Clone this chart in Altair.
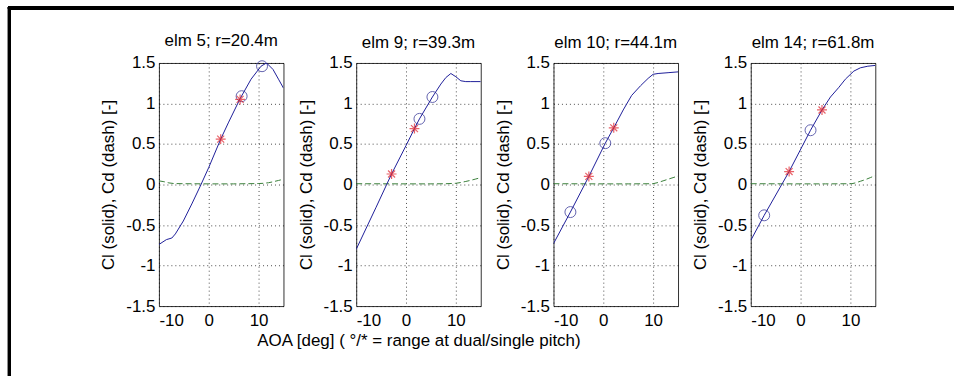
import altair as alt
import pandas as pd

titles = ["elm 5; r=20.4m", "elm 9; r=39.3m", "elm 10; r=44.1m", "elm 14; r=61.8m"]

cl_aoa = [
    [-10, -8.5, -7.4, -6.7, -5.1, -3.4, -1.7, 0, 2.4, 4, 6.3, 8.5, 10.5, 11.6, 12.9, 14, 15],
    [-10, -6, -2.9, 0, 1.7, 2.7, 5.3, 7, 8, 9, 10, 11, 12, 13, 15],
    [-10, -6.6, -2.9, 0.4, 2.1, 4, 5.7, 7.5, 9, 10, 11, 13, 15],
    [-10, -7.3, -2.3, 2.0, 4.3, 6, 7.7, 9, 10.7, 12, 13.5, 15],
]
cl_val = [
    [-0.74, -0.68, -0.66, -0.61, -0.45, -0.24, -0.02, 0.21, 0.56, 0.77, 1.06, 1.30, 1.46, 1.50, 1.42, 1.30, 1.19],
    [-0.80, -0.28, 0.13, 0.48, 0.69, 0.81, 1.08, 1.24, 1.32, 1.37, 1.33, 1.28, 1.27, 1.27, 1.27],
    [-0.73, -0.34, 0.10, 0.51, 0.70, 0.92, 1.10, 1.22, 1.31, 1.36, 1.37, 1.38, 1.39],
    [-0.69, -0.38, 0.16, 0.67, 0.92, 1.08, 1.20, 1.30, 1.40, 1.44, 1.46, 1.47],
]
cd_aoa = [
    [-10, -9, -8, -7, -5, 0, 5, 10, 11, 12, 13, 14, 15],
    [-10, 0, 5, 8, 10, 11, 12, 13, 14, 15],
    [-10, 0, 5, 10, 11, 12, 13, 14, 15],
    [-10, 0, 5, 10.3, 11, 12, 13, 14, 15],
]
cd_val = [
    [0.045, 0.035, 0.02, 0.012, 0.01, 0.008, 0.008, 0.012, 0.015, 0.022, 0.035, 0.05, 0.065],
    [0.01, 0.008, 0.008, 0.01, 0.015, 0.025, 0.038, 0.052, 0.068, 0.085],
    [0.01, 0.008, 0.008, 0.01, 0.025, 0.045, 0.065, 0.085, 0.105],
    [0.01, 0.008, 0.008, 0.01, 0.02, 0.04, 0.06, 0.085, 0.11],
]
circ_aoa = [[6.6, 10.7], [2.7, 5.3], [-6.6, 0.4], [-7.3, 2.0]]
circ_cl = [[1.09, 1.46], [0.81, 1.08], [-0.34, 0.51], [-0.38, 0.67]]
star_aoa = [[2.4, 6.3], [-2.9, 1.7], [-2.9, 2.1], [-2.3, 4.3]]
star_cl = [[0.56, 1.05], [0.13, 0.69], [0.10, 0.70], [0.16, 0.92]]

x_ticks = [-10, 0, 10]
y_ticks = [-1.5, -1, -0.5, 0, 0.5, 1, 1.5]
x_title = "AOA [deg] ( \u00b0/* = range at dual/single pitch)"
y_title = "Cl (solid), Cd (dash) [-]"

FONT = "Liberation Sans"
W, H = 125, 244
STAR = "M0,-1L0,1M-1,0L1,0M-0.7,-0.7L0.7,0.7M-0.7,0.7L0.7,-0.7"
TITLE_OFFSET = 2


def panel(i):
    xs = alt.Scale(domain=[-10, 15], nice=False, zero=False)
    ys = alt.Scale(domain=[-1.5, 1.5], nice=False, zero=False)
    xaxis = alt.Axis(values=x_ticks, labelExpr="'' + datum.value",
                     title=x_title if i == 1 else None)
    yaxis = alt.Axis(values=y_ticks, labelExpr="'' + datum.value", title=y_title)

    d_cl = pd.DataFrame({"aoa": cl_aoa[i], "v": cl_val[i]})
    d_cd = pd.DataFrame({"aoa": cd_aoa[i], "v": cd_val[i]})
    d_ci = pd.DataFrame({"aoa": circ_aoa[i], "v": circ_cl[i]})
    d_st = pd.DataFrame({"aoa": star_aoa[i], "v": star_cl[i]})

    base_x = alt.X("aoa:Q", scale=xs, axis=xaxis)
    base_y = alt.Y("v:Q", scale=ys, axis=yaxis)

    cdl = alt.Chart(d_cd).mark_line(color="#3a7f3a", strokeWidth=1, strokeDash=[6, 3], clip=True).encode(
        x=base_x, y=base_y)
    cll = alt.Chart(d_cl).mark_line(color="#1f1f9a", strokeWidth=1, clip=True).encode(
        x=alt.X("aoa:Q", scale=xs), y=alt.Y("v:Q", scale=ys))
    ci = alt.Chart(d_ci).mark_point(shape="circle", filled=False, color="#23238f", size=121,
                                     strokeWidth=1).encode(
        x=alt.X("aoa:Q", scale=xs), y=alt.Y("v:Q", scale=ys))
    st = alt.Chart(d_st).mark_point(shape=STAR, filled=False, color="#e0202a", size=100,
                                     strokeWidth=1.2).encode(
        x=alt.X("aoa:Q", scale=xs), y=alt.Y("v:Q", scale=ys))
    layers = [cdl, cll, ci, st]
    tkw = dict(fontSize=17, fontWeight="normal", font=FONT, color="black",
               offset=TITLE_OFFSET, frame="group")
    if i == 0:
        top = alt.Chart(d_cl).mark_rule(color="black", strokeWidth=3).encode(
            x=alt.value(-151.5), x2=alt.value(797.5), y=alt.value(-55))
        left = alt.Chart(d_cl).mark_rule(color="black", strokeWidth=3).encode(
            x=alt.value(-150), y=alt.value(-56.5), y2=alt.value(314.5))
        layers += [top, left]
        tkw["dy"] = 47
    return alt.layer(*layers).properties(
        width=W, height=H,
        title=alt.TitleParams(titles[i], **tkw),
    )


chart = alt.hconcat(*[panel(i) for i in range(4)], spacing=73, bounds="flush").properties(
    padding={"left": 5.5, "top": 3.5, "right": 0, "bottom": 0},
    background="white",
).configure_view(
    stroke="#333333", strokeWidth=1
).configure_axis(
    labelFont=FONT, titleFont=FONT, labelFontSize=17, titleFontSize=17,
    titleFontWeight="normal", labelColor="black", titleColor="black",
    grid=True, gridDash=[1, 3], gridColor="#000000", gridOpacity=0.7, gridWidth=1,
    domain=False, ticks=False,
).configure_axisX(
    labelPadding=6, titlePadding=5,
).configure_axisY(
    labelPadding=4, titlePadding=8,
)

chart.save("out.html", embed_options={"renderer": "svg", "actions": False})
